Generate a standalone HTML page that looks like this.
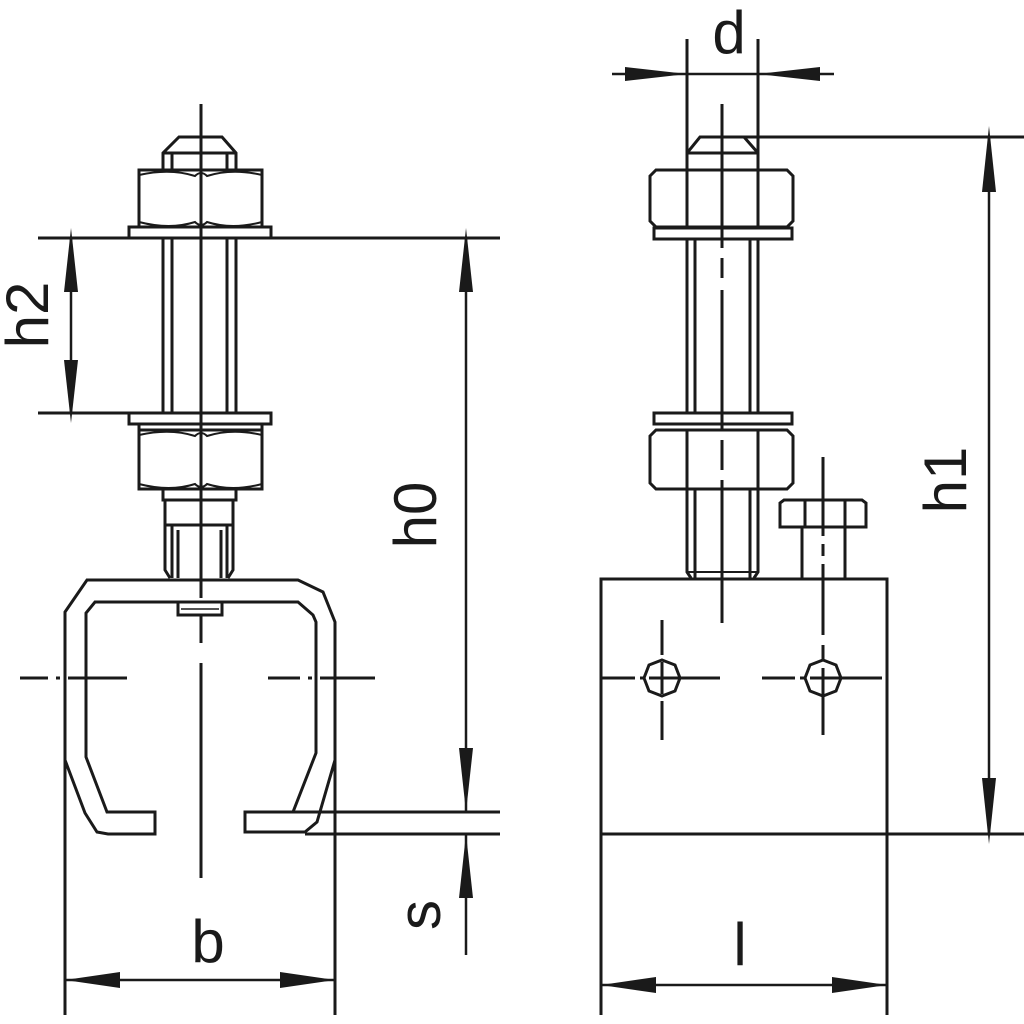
<!DOCTYPE html>
<html><head><meta charset="utf-8"><style>html,body{margin:0;padding:0;background:#fff}svg{display:block}</style></head><body>
<svg width="1024" height="1024" viewBox="0 0 1024 1024" xmlns="http://www.w3.org/2000/svg">
<g fill="none" stroke="#1a1a1a" stroke-width="3" stroke-linejoin="miter">
<!-- LEFT VIEW -->
<line x1="201" y1="104" x2="201" y2="598"/>
<line x1="201" y1="615" x2="201" y2="643" />
<line x1="201" y1="663" x2="201" y2="878"/>
<!-- cap -->
<path d="M163 170 V153 L179 137 H222 L236 153 V170"/>
<line x1="163" y1="153" x2="236" y2="153"/>
<line x1="172" y1="153" x2="172" y2="170"/><line x1="227" y1="153" x2="227" y2="170"/>
<!-- nut top -->
<rect x="139" y="170" width="123" height="57"/>
<path d="M139 175 Q170 168 195 176 Q201 170 207 176 Q232 168 262 175" stroke-width="2"/>
<path d="M139 222 Q170 230 195 222 Q201 228 207 222 Q232 230 262 222" stroke-width="2"/>
<rect x="129" y="227" width="142" height="11"/>
<!-- h2 top line / h0 top -->
<line x1="38" y1="238" x2="129" y2="238"/><line x1="271" y1="238" x2="500" y2="238"/>
<!-- rod -->
<line x1="163" y1="238" x2="163" y2="413"/><line x1="172" y1="238" x2="172" y2="413"/>
<line x1="227" y1="238" x2="227" y2="413"/><line x1="236" y1="238" x2="236" y2="413"/>
<line x1="38" y1="413" x2="129" y2="413"/>
<rect x="129" y="413" width="142" height="11"/>
<path d="M139 424 V430 M262 424 V430" />
<rect x="139" y="430" width="123" height="59"/>
<path d="M139 435 Q170 428 195 436 Q201 430 207 436 Q232 428 262 435" stroke-width="2"/>
<path d="M139 484 Q170 492 195 484 Q201 490 207 484 Q232 492 262 484" stroke-width="2"/>
<rect x="163" y="489" width="73" height="11"/>
<rect x="165" y="500" width="68" height="25"/>
<path d="M165 525 V570 L170 578 M233 525 V570 L228 578"/>
<line x1="172" y1="525" x2="172" y2="578"/><line x1="178" y1="530" x2="178" y2="578"/>
<line x1="227" y1="525" x2="227" y2="578"/><line x1="221" y1="530" x2="221" y2="578"/>
<!-- channel -->
<path d="M65 760 V612 L87 580 H298 L323 592 L335 622 V760 L317 822 L305 832 H245 V812 H293 L316 753 V622 L313 615 L298 602 H95 L86 613 V757 L107 812 H155 V834 H108 L97 832 L85 813 Z"/>
<rect x="178" y="602" width="44" height="13"/>
<line x1="181" y1="609" x2="219" y2="609" stroke-width="1.5"/>
<!-- horizontal centerline -->
<path d="M20 678 H48 M56 678 H60 M68 678 H127 M268 678 H300 M308 678 H312 M320 678 H375"/>
<!-- extension lines -->
<line x1="65" y1="760" x2="65" y2="1015"/><line x1="335" y1="760" x2="335" y2="1015"/>
<line x1="293" y1="812" x2="500" y2="812"/><line x1="305" y1="834" x2="500" y2="834"/>
<!-- dims -->
<line x1="71" y1="238" x2="71" y2="413" stroke-width="2.5"/>
<line x1="466" y1="238" x2="466" y2="812" stroke-width="2.5"/>
<line x1="466" y1="834" x2="466" y2="955" stroke-width="2.5"/>
<line x1="65" y1="980" x2="335" y2="980" stroke-width="2.5"/>

<!-- RIGHT VIEW -->
<line x1="687" y1="39" x2="687" y2="153"/><line x1="758" y1="39" x2="758" y2="153"/>
<line x1="612" y1="74" x2="834" y2="74" stroke-width="2.5"/>
<line x1="722" y1="104" x2="722" y2="248"/><line x1="722" y1="258" x2="722" y2="278"/><line x1="722" y1="290" x2="722" y2="430"/>
<line x1="722" y1="440" x2="722" y2="470"/><line x1="722" y1="480" x2="722" y2="623"/>
<path d="M687 170 V153 L700 137 H744 L758 153 V170"/>
<line x1="687" y1="153" x2="758" y2="153"/>
<line x1="744" y1="137" x2="1024" y2="137"/>
<path d="M650 176 L656 170 H787 L793 176 V221 L787 227 H656 L650 221 Z"/>
<line x1="687" y1="170" x2="687" y2="227"/><line x1="758" y1="170" x2="758" y2="227"/>
<rect x="654" y="228" width="138" height="11"/>
<line x1="687" y1="239" x2="687" y2="413"/><line x1="695" y1="239" x2="695" y2="413"/>
<line x1="750" y1="239" x2="750" y2="413"/><line x1="758" y1="239" x2="758" y2="413"/>
<rect x="654" y="413" width="138" height="11"/>
<path d="M650 436 L656 430 H787 L793 436 V483 L787 489 H656 L650 483 Z"/>
<line x1="687" y1="430" x2="687" y2="489"/><line x1="758" y1="430" x2="758" y2="489"/>
<path d="M687 489 V572 L691 578 M758 489 V572 L754 578"/>
<line x1="695" y1="489" x2="695" y2="578"/><line x1="750" y1="489" x2="750" y2="578"/>
<line x1="687" y1="572" x2="758" y2="572" stroke-width="2"/>
<!-- small bolt -->
<path d="M780 527 V503 L784 500 H862 L866 503 V527 Z"/>
<line x1="805" y1="500" x2="805" y2="527"/><line x1="845" y1="500" x2="845" y2="527"/>
<line x1="802" y1="527" x2="802" y2="579"/><line x1="845" y1="527" x2="845" y2="579"/>
<path d="M823 457 V536 M823 544 V556 M823 564 V635 M823 645 V660 M823 668 V735"/>
<!-- block -->
<rect x="601" y="579" width="286" height="255"/>
<line x1="887" y1="834" x2="1024" y2="834"/>
<line x1="601" y1="834" x2="601" y2="1015"/><line x1="887" y1="834" x2="887" y2="1015"/>
<line x1="601" y1="985" x2="887" y2="985" stroke-width="2.5"/>
<!-- holes -->
<polygon points="662,660 675,665 680,678 675,691 662,696 649,691 644,678 649,665"/>
<polygon points="823,660 836,665 841,678 836,691 823,696 810,691 805,678 810,665"/>
<path d="M662 620 V655 M662 662 V694 M662 701 V740"/>
<path d="M601 678 H635 M640 678 H644 M649 678 H720 M762 678 H795 M800 678 H804 M810 678 H882"/>
<line x1="989" y1="137" x2="989" y2="834" stroke-width="2.5"/>
</g>
<!-- arrows -->
<g fill="#1a1a1a" stroke="none">
<polygon points="71,228 64,292 78,292"/><polygon points="71,423 64,360 78,360"/>
<polygon points="466,228 459,292 473,292"/><polygon points="466,812 459,748 473,748"/>
<polygon points="466,834 459,898 473,898"/>
<polygon points="65,980 120,972 120,988"/><polygon points="335,980 280,972 280,988"/>
<polygon points="687,74 625,67 625,81"/><polygon points="758,74 820,67 820,81"/>
<polygon points="989,126 982,192 996,192"/><polygon points="989,844 982,778 996,778"/>
<polygon points="601,985 656,977 656,993"/><polygon points="887,985 832,977 832,993"/>
</g>
<g font-family="Liberation Sans, sans-serif" font-size="60" fill="#1a1a1a">
<text x="729" y="53" text-anchor="middle">d</text>
<text x="208" y="962" text-anchor="middle">b</text>
<text x="740" y="965" text-anchor="middle">l</text>
<text transform="translate(48,315) rotate(-90)" text-anchor="middle">h2</text>
<text transform="translate(436,515) rotate(-90)" text-anchor="middle">h0</text>
<text transform="translate(440,915) rotate(-90)" text-anchor="middle">s</text>
<text transform="translate(966,480) rotate(-90)" text-anchor="middle">h1</text>
</g>
</svg>
</body></html>
